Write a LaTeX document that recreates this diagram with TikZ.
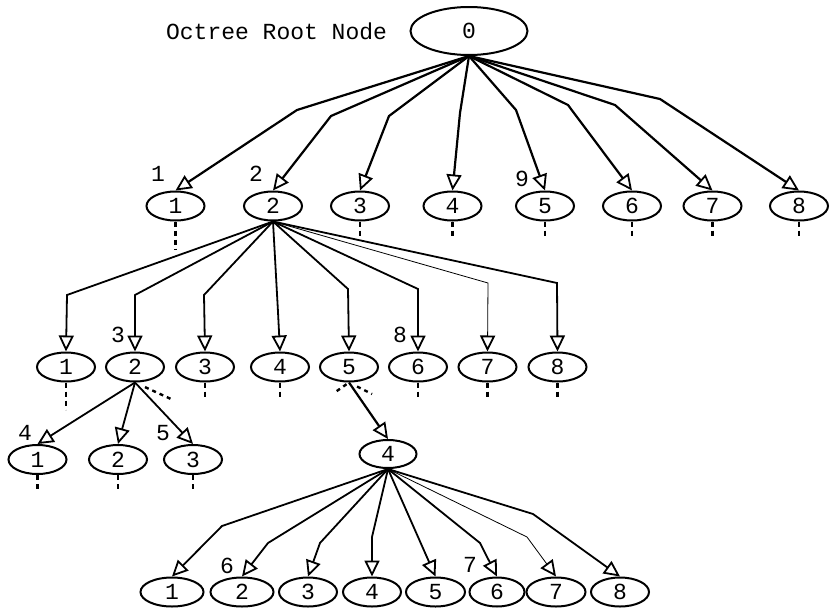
\documentclass[tikz,border=0pt]{standalone}
\usepackage{fontspec}
\setmonofont{Liberation Mono}
\usetikzlibrary{arrows.meta, positioning, shapes.geometric}

\begin{document}
\begin{tikzpicture}[x=1pt, y=-1pt,
    every node/.style={font=\ttfamily\fontsize{23}{23}\selectfont},
    oct/.style={draw, ellipse, line width=2pt, inner sep=0pt, minimum width=58pt, minimum height=29pt},
    link/.style={line width=1.8pt, -{Triangle[open, length=16pt, width=15pt, line width=1.8pt]}},
    rootlink/.style={link, line width=2.2pt},
    thinlink/.style={link, line width=0.8pt},
    stub/.style={line width=2.4pt, dash pattern=on 5pt off 4pt},
    moredots/.style={line width=2.4pt, dash pattern=on 4pt off 4pt},
    elabel/.style={inner sep=0pt}]
    \useasboundingbox (0,0) rectangle (833,608);

    % root of the tree
    \node[oct, minimum width=117pt, minimum height=48pt] (r) at (469,31) {0};
    \node[left=19pt of r] (title) {Octree Root Node};

    % first level
    \node[oct] (a1) at (175.5,206) {1};
    \node[oct] (a2) at (273,206) {2};
    \node[oct] (a3) at (360,206) {3};
    \node[oct] (a4) at (452.5,206) {4};
    \node[oct] (a5) at (545,206) {5};
    \node[oct] (a6) at (632,206) {6};
    \node[oct] (a7) at (712.5,206) {7};
    \node[oct] (a8) at (799,206) {8};

    \draw[rootlink] (r.south) -- (297,110) -- (a1.north);
    \draw[rootlink] (r.south) -- (331,116) -- (a2.north);
    \draw[rootlink] (r.south) -- (389,116) -- (a3.north);
    \draw[rootlink] (r.south) -- (460,113) -- (a4.north);
    \draw[rootlink] (r.south) -- (516,110) -- (a5.north);
    \draw[rootlink] (r.south) -- (568,105) -- (a6.north);
    \draw[rootlink] (r.south) -- (615,105) -- (a7.north);
    \draw[rootlink] (r.south) -- (660,99) -- (a8.north);

    \node[elabel] (n1) at (158,174) {1};
    \node[elabel] (n2) at (256,174) {2};
    \node[elabel] (n9) at (522,179) {9};

    \draw[stub] (a1.south) -- ++(0,28);
    \draw[stub] (a3.south) -- ++(0,16);
    \draw[stub] (a4.south) -- ++(0,16);
    \draw[stub] (a5.south) -- ++(0,16);
    \draw[stub] (a6.south) -- ++(0,16);
    \draw[stub] (a7.south) -- ++(0,16);
    \draw[stub] (a8.south) -- ++(0,16);

    % children of node 2
    \node[oct] (c1) at (66,367) {1};
    \node[oct] (c2) at (135,367) {2};
    \node[oct] (c3) at (205,367) {3};
    \node[oct] (c4) at (280,367) {4};
    \node[oct] (c5) at (349,367) {5};
    \node[oct] (c6) at (418,367) {6};
    \node[oct] (c7) at (487.5,367) {7};
    \node[oct] (c8) at (557.5,367) {8};

    \draw[link] (a2.south) -- (67,295) -- (c1.north);
    \draw[link] (a2.south) -- (135,295) -- (c2.north);
    \draw[link] (a2.south) -- (204,295) -- (c3.north);
    \draw[link] (a2.south) -- (278,312) -- (c4.north);
    \draw[link] (a2.south) -- (348,289) -- (c5.north);
    \draw[link] (a2.south) -- (418,289) -- (c6.north);
    \draw[thinlink] (a2.south) -- (488,283) -- (c7.north);
    \draw[link] (a2.south) -- (557,283) -- (c8.north);

    \node[elabel] (n3) at (118,335) {3};
    \node[elabel] (n8) at (400,335) {8};

    \draw[stub] (c1.south) -- ++(0,27);
    \draw[stub] (c3.south) -- ++(0,15);
    \draw[stub] (c4.south) -- ++(0,15);
    \draw[stub] (c6.south) -- ++(0,15);
    \draw[stub] (c7.south) -- ++(0,15);
    \draw[stub] (c8.south) -- ++(0,15);

    % children of 2/2
    \node[oct] (d1) at (37.5,459.5) {1};
    \node[oct] (d2) at (118,459.5) {2};
    \node[oct] (d3) at (193,459.5) {3};
    \coordinate (c2more) at (171,399);

    \draw[link] (c2.south) -- (d1.north);
    \draw[link] (c2.south) -- (d2.north);
    \draw[link] (c2.south) -- (d3.north);
    \draw[moredots, shorten <=11pt] (c2.south) -- (c2more);

    \node[elabel] (n4) at (25,433) {4};
    \node[elabel] (n5) at (163,433) {5};

    \draw[stub] (d1.south) -- ++(0,16);
    \draw[stub] (d2.south) -- ++(0,16);
    \draw[stub] (d3.south) -- ++(0,16);

    % 2/5 goes down to its child 4
    \node[oct, minimum width=57pt, minimum height=28pt] (d4) at (388,454) {4};
    \coordinate (c5left) at (334,393);
    \coordinate (c5right) at (372,394);
    \draw[moredots, shorten <=3pt] (c5.south) -- (c5left);
    \draw[moredots, shorten <=9pt] (c5.south) -- (c5right);
    \draw[rootlink] (c5.south) -- (d4.north);

    % bottom level
    \node[oct, minimum width=63pt] (e1) at (172,592) {1};
    \node[oct, minimum width=63pt] (e2) at (242,592) {2};
    \node[oct] (e3) at (308,592) {3};
    \node[oct] (e4) at (372,592) {4};
    \node[oct, minimum width=59pt] (e5) at (435.5,592) {5};
    \node[oct, minimum width=55pt] (e6) at (497,592) {6};
    \node[oct, minimum width=59pt] (e7) at (556,592) {7};
    \node[oct] (e8) at (620,592) {8};

    \draw[link] (d4.south) -- (222,526) -- (e1.north);
    \draw[link] (d4.south) -- (268,543) -- (e2.north);
    \draw[link] (d4.south) -- (320,543) -- (e3.north);
    \draw[link] (d4.south) -- (372,537) -- (e4.north);
    \draw[link] (d4.south) -- (e5.north);
    \draw[link] (d4.south) -- (480,543) -- (e6.north);
    \draw[thinlink] (d4.south) -- (527,537) -- (e7.north);
    \draw[link] (d4.south) -- (533,514) -- (e8.north);

    \node[elabel] (n6) at (227,566) {6};
    \node[elabel] (n7) at (470,565) {7};
\end{tikzpicture}
\end{document}
